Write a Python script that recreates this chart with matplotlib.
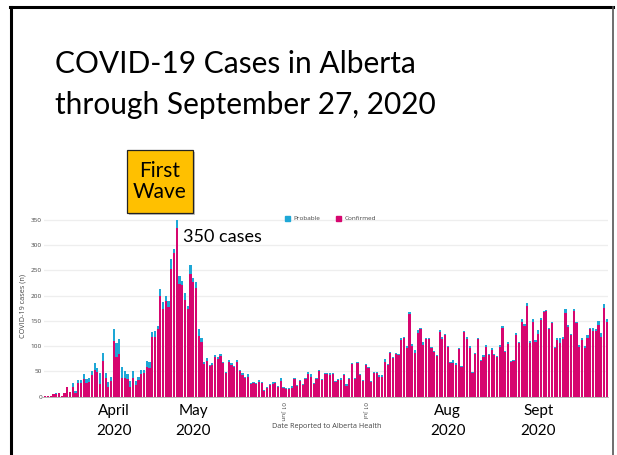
import numpy as np
import pandas as pd
import matplotlib
matplotlib.use("Agg")
import matplotlib.pyplot as plt
from matplotlib.patches import Rectangle
from matplotlib.lines import Line2D
import matplotlib.transforms as mtransforms

W, H = 617, 455
MAG = '#d6066f'
CYAN = '#1ea7d6'
GREY = '#444444'

# daily cases (confirmed + probable), 6 Mar .. 27 Sep 2020
total = [1, 1, 1, 5, 8, 7, 2, 8, 19, 9, 27, 12, 33, 33, 44, 35, 38, 50, 67, 56,
         46, 86, 47, 29, 39, 134, 106, 115, 58, 51, 45, 31, 50, 32, 40, 52, 53, 70,
         68, 128, 130, 141, 213, 187, 200, 189, 272, 293,
         350, 240, 230, 206, 180, 260, 235, 228, 134, 116, 69, 76, 63, 66, 83, 79,
         84, 69, 48, 73, 66, 61, 73,
         53, 46, 40, 45, 28, 30, 28, 34, 29, 13, 20, 26, 30, 30, 21, 38, 20, 18, 17,
         21, 38, 23, 34, 25, 38, 48, 45, 28, 38, 53, 36, 46, 46, 46, 46,
         31, 36, 38, 45, 26, 38, 67, 38, 69, 45, 34, 65, 58, 32, 49, 49, 43, 42, 74,
         65, 89, 79, 87, 85, 117, 119, 100, 167,
         104, 92, 133, 137, 108, 117, 117, 99, 91, 83, 132, 119, 125, 101, 69, 73,
         66, 96, 61, 131, 119, 100, 48, 87, 117, 73, 83, 102, 85, 96, 85, 81, 102,
         140, 91, 108, 71, 73,
         127, 109, 154, 144, 186, 110, 154, 112, 132, 155, 170, 172, 137, 148, 99,
         116, 117, 119, 173, 142, 125, 173, 148, 102, 116, 100, 122, 137, 137, 134,
         150, 127, 183, 154]

probable = [0, 0, 0, 0, 2, 0, 0, 0, 0, 0, 7, 4, 6, 5, 8, 7, 9, 8, 15, 7, 20, 15, 9,
            10, 8, 24, 27, 30, 20, 14, 10, 12, 12, 8, 6, 8, 6, 12, 11, 10, 12, 6, 13,
            13, 10, 11, 20, 9,
            15, 17, 8, 15, 7, 16, 8, 13, 14, 8, 4, 6, 3, 3, 5, 4, 3, 3, 2, 4, 3, 3, 4,
            3, 4, 3, 6, 2, 2, 2, 5, 2, 1, 2, 2, 4, 2, 2, 6, 2, 2, 2, 3, 3, 2, 2, 2, 2,
            3, 5, 2, 2, 3, 2, 2, 2, 3, 2,
            2, 3, 4, 2, 5, 2, 3, 2, 2, 3, 2, 3, 2, 2, 3, 2, 3, 2, 5, 3, 3, 2, 3, 3, 5,
            3, 4, 4,
            3, 5, 7, 3, 5, 3, 2, 2, 3, 2, 3, 4, 2, 3, 3, 6, 3, 2, 3, 2, 4, 3, 2, 3, 2,
            3, 4, 3, 2, 3, 2, 2, 3, 4, 2, 3, 2, 3,
            5, 3, 6, 4, 7, 3, 6, 3, 8, 3, 3, 3, 3, 3, 3, 3, 11, 4, 7, 3, 2, 3, 3, 3, 4,
            4, 6, 3, 6, 3, 8, 9, 7, 6]

dates = pd.date_range('2020-03-06', '2020-09-27', freq='D')
assert len(total) == len(dates) == len(probable), (len(total), len(probable), len(dates))
confirmed = [t - p for t, p in zip(total, probable)]

yticks = [0, 50, 100, 150, 200, 250, 300, 350]
tick_dates = ['2020-06-01', '2020-07-01']
tick_labels = ['01 Jun', '01 Jul']
month_labels = ['April\n2020', 'May\n2020', 'Aug\n2020', 'Sept\n2020']
month_pos = ['2020-03-31', '2020-04-29', '2020-07-31', '2020-09-02']

fig = plt.figure(figsize=(W / 100, H / 100), dpi=100)

# slide frame
fig.add_artist(Line2D([11 / W, 11 / W], [0, 1 - 7 / H], color='black', lw=2.2))
fig.add_artist(Line2D([10 / W, 613 / W], [1 - 7 / H, 1 - 7 / H], color='black', lw=2.2))
fig.add_artist(Line2D([613 / W, 613 / W], [0, 1 - 7 / H], color='#555555', lw=1.2))

ax = fig.add_axes([44 / W, (H - 396.7) / H, 564 / W, (396.7 - 214.95) / H])
x = np.arange(len(dates))
ax.bar(x, confirmed, width=0.8, color=MAG, linewidth=0, zorder=3)
ax.bar(x, probable, bottom=confirmed, width=0.8, color=CYAN, linewidth=0, zorder=3)
ax.set_xlim(-0.5, len(dates) - 0.5)
ax.set_ylim(0, 360)

ax.set_yticks(yticks)
ax.grid(axis='y', color='#eeeeee', lw=0.9, zorder=0)
for s in ('top', 'right', 'left'):
    ax.spines[s].set_visible(False)
ax.spines['bottom'].set_color('#aaaaaa')
ax.spines['bottom'].set_linewidth(0.6)
ax.spines['bottom'].set_bounds(-1.2, len(dates) - 0.5)
ax.tick_params(axis='y', length=0, labelsize=4.6, labelcolor=GREY, pad=1.5)

ti = [dates.get_loc(pd.Timestamp(d)) for d in tick_dates]
ax.set_xticks(ti)
ax.set_xticklabels(tick_labels, rotation=270, fontsize=4.6, color=GREY)
ax.tick_params(axis='x', length=0, pad=4)
for lab in ax.get_yticklabels() + ax.get_xticklabels():
    lab.set_family('Open Sans')

ax.set_ylabel('COVID-19 cases (n)', fontsize=5.2, color=GREY, family='Open Sans', labelpad=3)
fig.text(327 / W, 1 - 427 / H, 'Date Reported to Alberta Health', fontsize=5.2,
         color=GREY, family='Open Sans', ha='center', va='center')

# legend
h1 = Line2D([], [], marker='s', ls='', color=CYAN, markersize=3.6)
h2 = Line2D([], [], marker='s', ls='', color=MAG, markersize=3.6)
fig.legend([h1, h2], ['Probable', 'Confirmed'], loc='center',
           bbox_to_anchor=(330 / W, 1 - 218 / H), ncol=2, frameon=False,
           prop={'family': 'Open Sans', 'size': 4.6}, labelcolor=GREY,
           handletextpad=0.6, columnspacing=2.2, handlelength=1.0)

# month labels added on the slide
trans = mtransforms.blended_transform_factory(ax.transData, fig.transFigure)
for lab, d in zip(month_labels, month_pos):
    xi = dates.get_loc(pd.Timestamp(d))
    ax.text(xi, 1 - 421 / H, lab, transform=trans, ha='center', va='center',
            fontsize=11, family='Lato', linespacing=1.5)

# title
fig.text(55 / W, 1 - 73 / H, 'COVID-19 Cases in Alberta', fontsize=21.5,
         family='Lato', va='baseline', ha='left')
fig.text(55 / W, 1 - 114 / H, 'through September 27, 2020', fontsize=21.5,
         family='Lato', va='baseline', ha='left')

# "First Wave" call-out
fig.add_artist(Rectangle((129 / W, 1 - 215 / H), 66 / W, 63 / H, transform=fig.transFigure,
                         fc='#9a9a9a', ec='none', alpha=0.6))
fig.add_artist(Rectangle((127 / W, 1 - 213 / H), 66 / W, 63 / H, transform=fig.transFigure,
                         fc='#ffc000', ec='#222222', lw=0.9))
fig.text(160 / W, 1 - 181.5 / H, 'First\nWave', fontsize=15, family='Lato',
         ha='center', va='center', linespacing=1.1)

peak = int(np.argmax(total))
ax.annotate(f'{total[peak]} cases', xy=(peak, total[peak]), xytext=(183 / W, 1 - 237 / H),
            textcoords='figure fraction', fontsize=13, family='Lato', va='center', ha='left')

fig.savefig('out.png', dpi=100)
